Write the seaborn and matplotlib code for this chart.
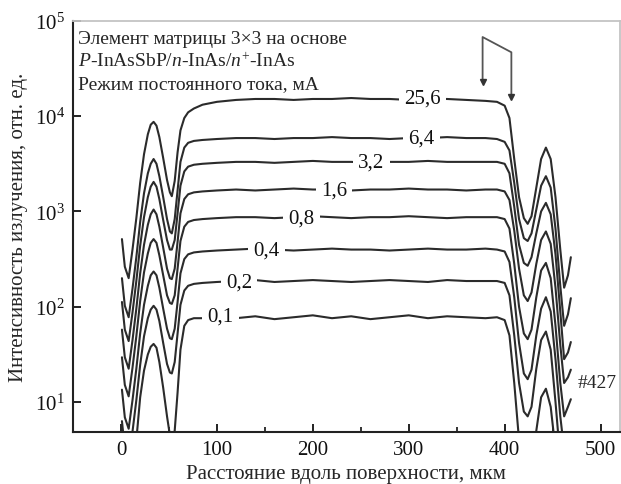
import numpy as np
import pandas as pd
import matplotlib.pyplot as plt
import matplotlib.ticker as mticker
import seaborn as sns

# ── Data (lg of intensity) ────────────────────────────────────────
x_um = [1, 4, 8, 12, 16, 20, 24, 28, 31, 34, 37, 40, 44, 48, 51, 53, 56, 59, 62, 66,
        70, 76, 85, 100, 120, 140, 160, 180, 200, 220, 240, 260, 280, 300, 320, 340,
        360, 380, 392, 400, 405, 410, 415, 420, 424, 428, 433, 438, 443, 448, 453,
        458, 462, 466, 469]

lg_25_6 = [2.71, 2.42, 2.30, 2.60, 2.93, 3.30, 3.60, 3.81, 3.91, 3.94, 3.90, 3.78, 3.56, 3.33,
           3.20, 3.16, 3.32, 3.62, 3.85, 3.98, 4.04, 4.08, 4.12, 4.15,
           4.17, 4.18, 4.18, 4.17, 4.18, 4.18, 4.19, 4.18, 4.18, 4.17, 4.18, 4.18, 4.17, 4.16,
           4.15, 4.11, 3.98, 3.55, 3.15, 2.93, 2.87, 2.95, 3.25, 3.55, 3.67, 3.55, 3.15,
           2.60, 2.20, 2.33, 2.52]
lg_6_4 = [2.30, 2.01, 1.89, 2.19, 2.52, 2.89, 3.19, 3.40, 3.50, 3.55, 3.50, 3.37, 3.15, 2.92,
          2.79, 2.77, 2.92, 3.22, 3.52, 3.67, 3.72, 3.74, 3.75, 3.76,
          3.77, 3.77, 3.76, 3.77, 3.77, 3.78, 3.77, 3.77, 3.76, 3.77, 3.77, 3.78, 3.77, 3.77,
          3.76, 3.73, 3.64, 3.30, 2.92, 2.72, 2.69, 2.77, 3.02, 3.27, 3.37, 3.25, 2.82,
          2.22, 1.80, 1.92, 2.09]
lg_3_2 = [2.05, 1.76, 1.64, 1.94, 2.27, 2.64, 2.94, 3.15, 3.26, 3.31, 3.26, 3.13, 2.91, 2.70,
          2.60, 2.60, 2.70, 2.98, 3.27, 3.42, 3.47, 3.49, 3.50, 3.51,
          3.52, 3.52, 3.51, 3.52, 3.53, 3.52, 3.52, 3.51, 3.52, 3.52, 3.53, 3.52, 3.52, 3.52,
          3.52, 3.50, 3.40, 3.05, 2.65, 2.46, 2.43, 2.52, 2.77, 3.00, 3.09, 2.97, 2.55,
          1.95, 1.45, 1.52, 1.63]
lg_1_6 = [1.76, 1.47, 1.35, 1.65, 1.98, 2.35, 2.65, 2.86, 2.97, 3.02, 2.97, 2.84, 2.62, 2.40,
          2.30, 2.29, 2.40, 2.68, 2.98, 3.13, 3.18, 3.20, 3.21, 3.22,
          3.23, 3.22, 3.23, 3.24, 3.23, 3.23, 3.22, 3.23, 3.23, 3.24, 3.23, 3.23, 3.22, 3.23,
          3.23, 3.21, 3.12, 2.80, 2.40, 2.12, 2.06, 2.15, 2.45, 2.70, 2.79, 2.66, 2.20,
          1.60, 1.20, 1.26, 1.34]
lg_0_8 = [1.47, 1.18, 1.06, 1.36, 1.69, 2.06, 2.36, 2.56, 2.67, 2.71, 2.67, 2.54, 2.33, 2.12,
          2.04, 2.03, 2.12, 2.40, 2.69, 2.84, 2.89, 2.91, 2.92, 2.93,
          2.94, 2.94, 2.93, 2.94, 2.95, 2.94, 2.93, 2.94, 2.94, 2.95, 2.94, 2.93, 2.94, 2.94,
          2.94, 2.92, 2.82, 2.45, 2.00, 1.72, 1.66, 1.76, 2.10, 2.38, 2.46, 2.30, 1.80,
          1.20, 0.85, 0.95, 1.03]
lg_0_4 = [1.13, 0.84, 0.72, 1.02, 1.35, 1.72, 2.02, 2.22, 2.33, 2.37, 2.33, 2.20, 1.98, 1.77,
          1.67, 1.66, 1.77, 2.05, 2.35, 2.50, 2.55, 2.57, 2.58, 2.59,
          2.60, 2.61, 2.60, 2.59, 2.60, 2.61, 2.60, 2.60, 2.59, 2.60, 2.61, 2.60, 2.60, 2.61,
          2.60, 2.58, 2.47, 2.10, 1.62, 1.30, 1.24, 1.34, 1.70, 1.98, 2.10, 1.95, 1.45,
          0.85, 0.50, 0.55, 0.60]
lg_0_2 = [0.80, 0.51, 0.39, 0.69, 1.02, 1.39, 1.69, 1.88, 1.97, 2.01, 1.97, 1.85, 1.62, 1.40,
          1.31, 1.30, 1.42, 1.72, 2.02, 2.17, 2.22, 2.24, 2.25, 2.26,
          2.27, 2.28, 2.26, 2.27, 2.28, 2.27, 2.26, 2.27, 2.28, 2.27, 2.26, 2.28, 2.27, 2.27,
          2.27, 2.25, 2.12, 1.70, 1.20, 0.90, 0.85, 0.95, 1.35, 1.65, 1.74, 1.55, 1.00,
          0.40, 0.20, 0.20, 0.20]
lg_0_1 = [0.42, 0.13, 0.00, 0.20, 0.60, 1.05, 1.33, 1.50, 1.58, 1.61, 1.57, 1.42, 1.15, 0.85,
          0.65, 0.60, 0.70, 1.10, 1.55, 1.80, 1.86, 1.88, 1.88, 1.89,
          1.88, 1.90, 1.87, 1.89, 1.91, 1.88, 1.90, 1.87, 1.89, 1.91, 1.88, 1.90, 1.89, 1.88,
          1.89, 1.86, 1.70, 1.20, 0.60, 0.30, 0.20, 0.30, 0.70, 1.05, 1.14, 0.95, 0.50,
          0.20, 0.20, 0.20, 0.20]

currents = ['25,6', '6,4', '3,2', '1,6', '0,8', '0,4', '0,2', '0,1']
series = [lg_25_6, lg_6_4, lg_3_2, lg_1_6, lg_0_8, lg_0_4, lg_0_2, lg_0_1]
label_x = [314, 313, 261, 222, 188, 152, 123, 104]

arrow_x = [377, 377, 407, 407]
arrow_y = [10**4.36, 10**4.83, 10**4.67, 10**4.20]

# ── Style ──────────────────────────────────────────────────────────
sns.set_theme(style='white')
plt.rcParams['font.family'] = ['Liberation Serif', 'DejaVu Serif']
plt.rcParams['mathtext.fontset'] = 'custom'
plt.rcParams['mathtext.rm'] = 'Liberation Serif'
plt.rcParams['mathtext.it'] = 'Liberation Serif:italic'
plt.rcParams['mathtext.bf'] = 'Liberation Serif:bold'

LINE = '#2b2b2b'

df = pd.concat([pd.DataFrame({'x': x_um, 'I': np.power(10.0, s), 'current': c})
                for c, s in zip(currents, series)], ignore_index=True)

fig, ax = plt.subplots(figsize=(6.21, 4.85), dpi=100)
fig.subplots_adjust(left=0.1176, right=0.998, bottom=0.107, top=0.955)

sns.lineplot(data=df, x='x', y='I', units='current', estimator=None, sort=False,
             color=LINE, linewidth=1.5, legend=False, ax=ax)
ax.set_yscale('log')
ax.set_xlim(-50, 520)
ax.set_ylim(4.84, 1e5)

# current labels sitting in gaps of the curves
for c, s, lx in zip(currents, series, label_x):
    ax.text(lx, 10**s[30], c, fontsize=15, ha='center', va='center', color='#111',
            bbox=dict(boxstyle='square,pad=0.25', fc='white', ec='none'))

# double arrow at the top
ax.plot(arrow_x, arrow_y, color='#555', linewidth=1.3, clip_on=False)
ax.plot([arrow_x[0], arrow_x[-1]], [arrow_y[0], arrow_y[-1]], linestyle='none',
        marker='v', markersize=5, color='#333')

ax.text(0.009, 0.956, 'Элемент матрицы 3×3 на основе', transform=ax.transAxes,
        fontsize=14, va='center', ha='left')
ax.text(0.009, 0.903, '$P$-InAsSbP/$n$-InAs/$n^{+}$-InAs', transform=ax.transAxes,
        fontsize=14, va='center', ha='left')
ax.text(0.009, 0.847, 'Режим постоянного тока, мА', transform=ax.transAxes,
        fontsize=14, va='center', ha='left')
ax.text(476, 10**1.21, '#427', fontsize=14, va='center', ha='left')

# ── Axes ───────────────────────────────────────────────────────────
ax.set_xticks([0, 100, 200, 300, 400, 500])
ax.xaxis.set_minor_locator(mticker.FixedLocator([50, 150, 250, 350, 450]))
ax.yaxis.set_major_locator(mticker.LogLocator(base=10))
ax.yaxis.set_minor_locator(mticker.NullLocator())
ax.yaxis.set_major_formatter(mticker.LogFormatterMathtext())
ax.tick_params(which='major', direction='in', length=6, width=1.3, labelsize=15,
               colors='#111', pad=6)
ax.tick_params(which='minor', direction='in', length=3.5, width=1.2, colors='#111')
ax.tick_params(axis='x', which='both', bottom=True)
ax.tick_params(axis='y', which='both', left=True)

for side in ['left', 'bottom']:
    ax.spines[side].set_color('#222')
    ax.spines[side].set_linewidth(1.5)
for side in ['top', 'right']:
    ax.spines[side].set_color('#c4c4c4')
    ax.spines[side].set_linewidth(1.3)

ax.set_xlabel('Расстояние вдоль поверхности, мкм', fontsize=15, labelpad=3)
ax.set_ylabel('Интенсивность излучения, отн. ед.', fontsize=15, labelpad=5)

plt.savefig('out.png', dpi=100)
